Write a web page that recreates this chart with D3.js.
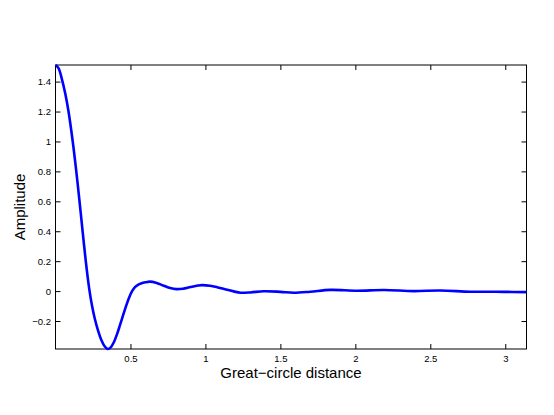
<!DOCTYPE html>
<html><head><meta charset="utf-8">
<script src="https://cdn.jsdelivr.net/npm/d3@7"></script>
<style>body{margin:0;background:#fff}svg{display:block}text{font-family:"Liberation Sans",Arial,Helvetica,sans-serif;fill:#000}</style>
</head><body>
<script>
// data
const distance = [0, 0.02, 0.043, 0.065, 0.086, 0.113, 0.137, 0.159, 0.179, 0.201, 0.225, 0.244, 0.263, 0.285, 0.305, 0.325, 0.349, 0.37, 0.39, 0.41, 0.43, 0.45, 0.47, 0.49, 0.51, 0.53, 0.55, 0.57, 0.6, 0.63, 0.67, 0.722, 0.765, 0.807, 0.85, 0.9, 0.95, 0.978, 1.03, 1.078, 1.13, 1.189, 1.233, 1.3, 1.389, 1.5, 1.589, 1.7, 1.833, 2.011, 2.19, 2.389, 2.567, 2.767, 2.99, 3.1416];
const amplitude = [1.511, 1.49, 1.415, 1.32, 1.205, 1.015, 0.815, 0.612, 0.418, 0.209, 0.015, -0.1, -0.188, -0.267, -0.325, -0.365, -0.387, -0.374, -0.34, -0.289, -0.228, -0.164, -0.102, -0.046, -0.002, 0.026, 0.042, 0.051, 0.059, 0.063, 0.056, 0.036, 0.02, 0.013, 0.016, 0.027, 0.037, 0.04, 0.036, 0.026, 0.012, -0.002, -0.011, -0.009, -0.001, -0.005, -0.011, -0.004, 0.008, 0.002, 0.007, 0.0, 0.004, -0.004, -0.005, -0.007];
const xTicks = [0.5, 1, 1.5, 2, 2.5, 3];
const yTicks = [-0.2, 0, 0.2, 0.4, 0.6, 0.8, 1, 1.2, 1.4];
const xDomain = [0, Math.PI];
const yDomain = [-0.387, 1.511];

const W = 554, H = 415;
const L = 55.5, R = 526.5, T = 65, B = 349;
const svg = d3.select("body").append("svg").attr("width", W).attr("height", H);
const x = d3.scaleLinear().domain(xDomain).range([L, R]);
const y = d3.scaleLinear().domain(yDomain).range([B, T]);

const tickLen = 5;
const axB = d3.axisBottom(x).tickValues(xTicks).tickSizeInner(-tickLen).tickSizeOuter(0).tickPadding(6).tickFormat(d3.format("~g"));
const axT = d3.axisTop(x).tickValues(xTicks).tickSizeInner(-tickLen).tickSizeOuter(0).tickFormat("");
const axL = d3.axisLeft(y).tickValues(yTicks).tickSizeInner(-tickLen).tickSizeOuter(0).tickPadding(4.5).tickFormat(d => d3.format("~g")(d).replace("-", "\u2212"));
const axR = d3.axisRight(y).tickValues(yTicks).tickSizeInner(-tickLen).tickSizeOuter(0).tickFormat("");

function style(g){
  g.select(".domain").remove();
  g.selectAll("line").attr("stroke", "#000");
  g.selectAll("text").attr("font-size", 9.5).attr("font-family", "Liberation Sans, Arial, sans-serif").attr("fill", "#000");
}
svg.append("g").attr("transform", `translate(0,${B})`).call(axB).call(style);
svg.append("g").attr("transform", `translate(0,${T})`).call(axT).call(style);
svg.append("g").attr("transform", `translate(${L},0)`).call(axL).call(style);
svg.append("g").attr("transform", `translate(${R},0)`).call(axR).call(style);

// box
svg.append("rect").attr("x", L).attr("y", T).attr("width", R - L).attr("height", B - T)
  .attr("fill", "none").attr("stroke", "#000").attr("stroke-width", 1);

const pts = distance.map((d, i) => [d, amplitude[i]]);
const line = d3.line().x(d => x(d[0])).y(d => y(d[1])).curve(d3.curveCatmullRom.alpha(0.5));
svg.append("path").datum(pts).attr("d", line).attr("fill", "none")
  .attr("stroke", "#0000ff").attr("stroke-width", 2.6).attr("stroke-linejoin", "round");

svg.append("text").attr("x", (L + R) / 2).attr("y", 378).attr("text-anchor", "middle")
  .attr("font-size", 15).text("Great\u2212circle distance");
svg.append("text").attr("transform", `translate(25,${(T + B) / 2}) rotate(-90)`).attr("text-anchor", "middle")
  .attr("font-size", 15).text("Amplitude");
</script>
</body></html>
